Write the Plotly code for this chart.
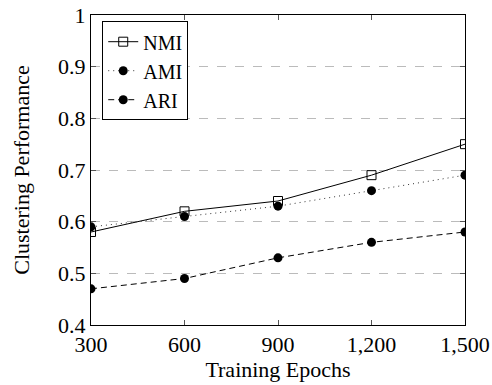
import plotly.graph_objects as go

epochs = [300, 600, 900, 1200, 1500]
nmi = [0.58, 0.62, 0.64, 0.69, 0.75]
ami = [0.59, 0.61, 0.63, 0.66, 0.69]
ari = [0.47, 0.49, 0.53, 0.56, 0.58]
y_ticks = [0.4, 0.5, 0.6, 0.7, 0.8, 0.9, 1.0]
y_tick_text = ["0.4", "0.5", "0.6", "0.7", "0.8", "0.9", "1"]

fig = go.Figure()
fig.add_trace(go.Scatter(x=epochs, y=nmi, name="NMI", mode="lines+markers",
                         line=dict(color="black", width=1, dash="solid"),
                         marker=dict(symbol="square-open", size=9, color="black", line=dict(width=1))))
fig.add_trace(go.Scatter(x=epochs, y=ami, name="AMI", mode="lines+markers",
                         line=dict(color="#333", width=1, dash="1px,4px"),
                         marker=dict(symbol="circle", size=9, color="black")))
fig.add_trace(go.Scatter(x=epochs, y=ari, name="ARI", mode="lines+markers",
                         line=dict(color="black", width=1, dash="6px,4px"),
                         marker=dict(symbol="circle", size=9, color="black")))

font = "Liberation Serif"
fig.update_layout(
    width=492, height=385,
    margin=dict(l=91, r=27, t=15, b=60),
    paper_bgcolor="white", plot_bgcolor="white",
    font=dict(family=font, size=22, color="black"),
    showlegend=True,
    legend=dict(x=0.03, y=0.98, xanchor="left", yanchor="top",
                bordercolor="black", borderwidth=1, bgcolor="white",
                font=dict(family=font, size=20, color="black"),
                itemwidth=30, entrywidth=60, tracegroupgap=0),
)
fig.update_xaxes(range=[300, 1500], tickvals=epochs, tickformat=",",
                 tickfont=dict(family=font, size=22, color="black"),
                 ticks="inside", ticklen=5, tickcolor="#555", mirror="ticks",
                 showline=True, linecolor="black", linewidth=1, showgrid=False,
                 zeroline=False, automargin=False,
                 title=dict(text="Training Epochs", standoff=4,
                            font=dict(family=font, size=22, color="black")))
fig.update_yaxes(range=[0.4, 1.0], tickvals=y_ticks, ticktext=y_tick_text,
                 tickfont=dict(family=font, size=22, color="black"),
                 ticks="inside", ticklen=5, tickcolor="#555", mirror="ticks",
                 showline=True, linecolor="black", linewidth=1,
                 showgrid=True, gridcolor="#bbbbbb", griddash="dash", gridwidth=1,
                 zeroline=False, automargin=False,
                 title=dict(text="Clustering Performance", standoff=22,
                            font=dict(family=font, size=22, color="black")))
fig.write_html("out.html")
